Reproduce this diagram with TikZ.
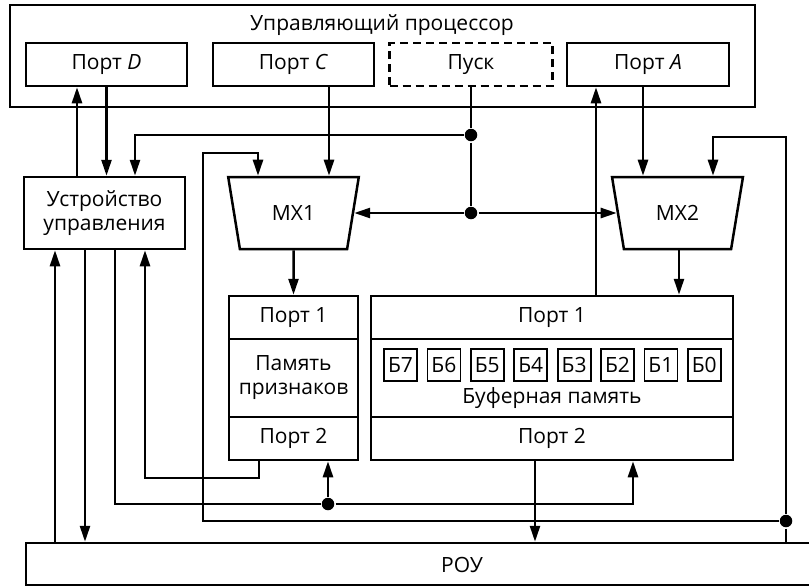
\documentclass[tikz,border=0pt]{standalone}
\usepackage{fontspec}
\setmainfont{Open Sans}
\usetikzlibrary{arrows.meta,positioning,shapes.geometric}

\begin{document}
\begin{tikzpicture}[
    x=1pt, y=-1pt,
    line width=2.5pt,
    every node/.style={font=\fontsize{21}{24}\selectfont},
    box/.style={draw, rectangle, inner sep=0pt, align=center},
    mux/.style={draw, trapezium, shape border rotate=180, trapezium angle=72.6,
        trapezium stretches=true, minimum width=131pt, minimum height=72pt, inner sep=0pt},
    cell/.style={draw, rectangle, minimum width=33pt, minimum height=32pt, inner sep=0pt, line width=1.8pt},
    dot/.style={circle, fill, inner sep=0pt, minimum size=12.5pt},
    arr/.style={-{Triangle[length=16pt,width=10pt]}},
]
\clip (0,0) rectangle (809,587);

% Processor
\node[box, minimum width=745pt, minimum height=102pt] (proc) at (382.5,56) {};
\node (procTitle) at (382,25) {Управляющий процессор};
\node[box, minimum width=161pt, minimum height=43pt] (portD) at (106.5,64.5) {Порт \textit{D}};
\node[box, minimum width=161pt, minimum height=43pt] (portC) at (293.5,64.5) {Порт \textit{C}};
\node[box, dash pattern=on 8pt off 5pt, minimum width=163pt, minimum height=43pt] (pusk) at (471,64.5) {Пуск};
\node[box, minimum width=162pt, minimum height=43pt] (portA) at (648,64.5) {Порт \textit{A}};

% Control unit and multiplexers
\node[box, minimum width=161pt, minimum height=72pt] (uu) at (104.5,213) {Устройство\\управления};
\node[mux] (mx1) at (293.5,213) {MX1};
\node[mux] (mx2) at (677.5,213) {MX2};

% Flag memory
\node[box, minimum width=129pt, minimum height=43pt] (pp1) at (293.5,317.5) {Порт 1};
\node[box, minimum width=129pt, minimum height=78pt] (ppm) at (293.5,378) {Память\\признаков};
\node[box, minimum width=129pt, minimum height=43pt] (pp2) at (293.5,438.5) {Порт 2};

% Buffer memory
\node[box, minimum width=362pt, minimum height=43pt] (buf1) at (552,317.5) {Порт 1};
\node[box, minimum width=362pt, minimum height=78pt] (bufm) at (552,378) {};
\node[box, minimum width=362pt, minimum height=43pt] (buf2) at (552,438.5) {Порт 2};
\foreach \i in {0,...,7} {
    \pgfmathtruncatemacro{\b}{7-\i}
    \node[cell] (b\b) at (400.5+43.4*\i,365) {Б\b};
}
\node (bufText) at (552,398) {Буферная память};

% ROU
\node[box, minimum width=804pt, minimum height=42pt] (rou) at (428,564) {};
\node (rouText) at (462,565) {РОУ};

% Junctions
\node[dot] (dot1) at (471,135) {};
\node[dot] (dot2) at (471,213) {};
\node[dot] (dot3) at (786,521) {};
\node[dot] (dot4) at (328,504) {};
\coordinate (loopL) at (203,153);
\coordinate (loopR) at (786,137);
\coordinate (ppLoop) at (145,478);

% Processor links
\draw[arr] (uu.north -| 77,0) -- (portD.south -| 77,0);
\draw[arr] (portD.south) -- (portD.south |- uu.north);
\draw[arr] (dot1) -| (uu.north -| 135,0);
\draw (pusk.south) -- (dot1) -- (dot2);
\draw[arr] (dot2) -- (mx1.east);
\draw[arr] (dot2) -- (mx2.west);
\draw[arr] (portC.south -| 329,0) -- (mx1.north -| 329,0);
\draw[arr] (portA.south -| 643,0) -- (mx2.north -| 643,0);
\draw[arr] (buf1.north -| 596,0) -- (portA.south -| 596,0);
\draw[arr] (mx1.south) -- (pp1.north);
\draw[arr] (mx2.south -| 679,0) -- (buf1.north -| 679,0);

% Feedback loops
\draw[arr] (dot3) -| (loopL) -| (mx1.north -| 258,0);
\draw[arr] (dot3) -- (loopR) -| (mx2.north -| 713,0);
\draw (dot3) -- (dot3 |- rou.north);

% Bottom links
\draw[arr] (rou.north -| 55,0) -- (uu.south -| 55,0);
\draw[arr] (uu.south -| 85,0) -- (rou.north -| 85,0);
\draw[arr] (uu.south -| 115,0) |- (dot4) -| (buf2.south -| 633,0);
\draw[arr] (dot4) -- (pp2.south -| dot4);
\draw[arr] (pp2.south -| 259,0) |- (ppLoop) -- (uu.south -| ppLoop);
\draw[arr] (buf2.south -| 535,0) -- (rou.north -| 535,0);
\end{tikzpicture}
\end{document}
